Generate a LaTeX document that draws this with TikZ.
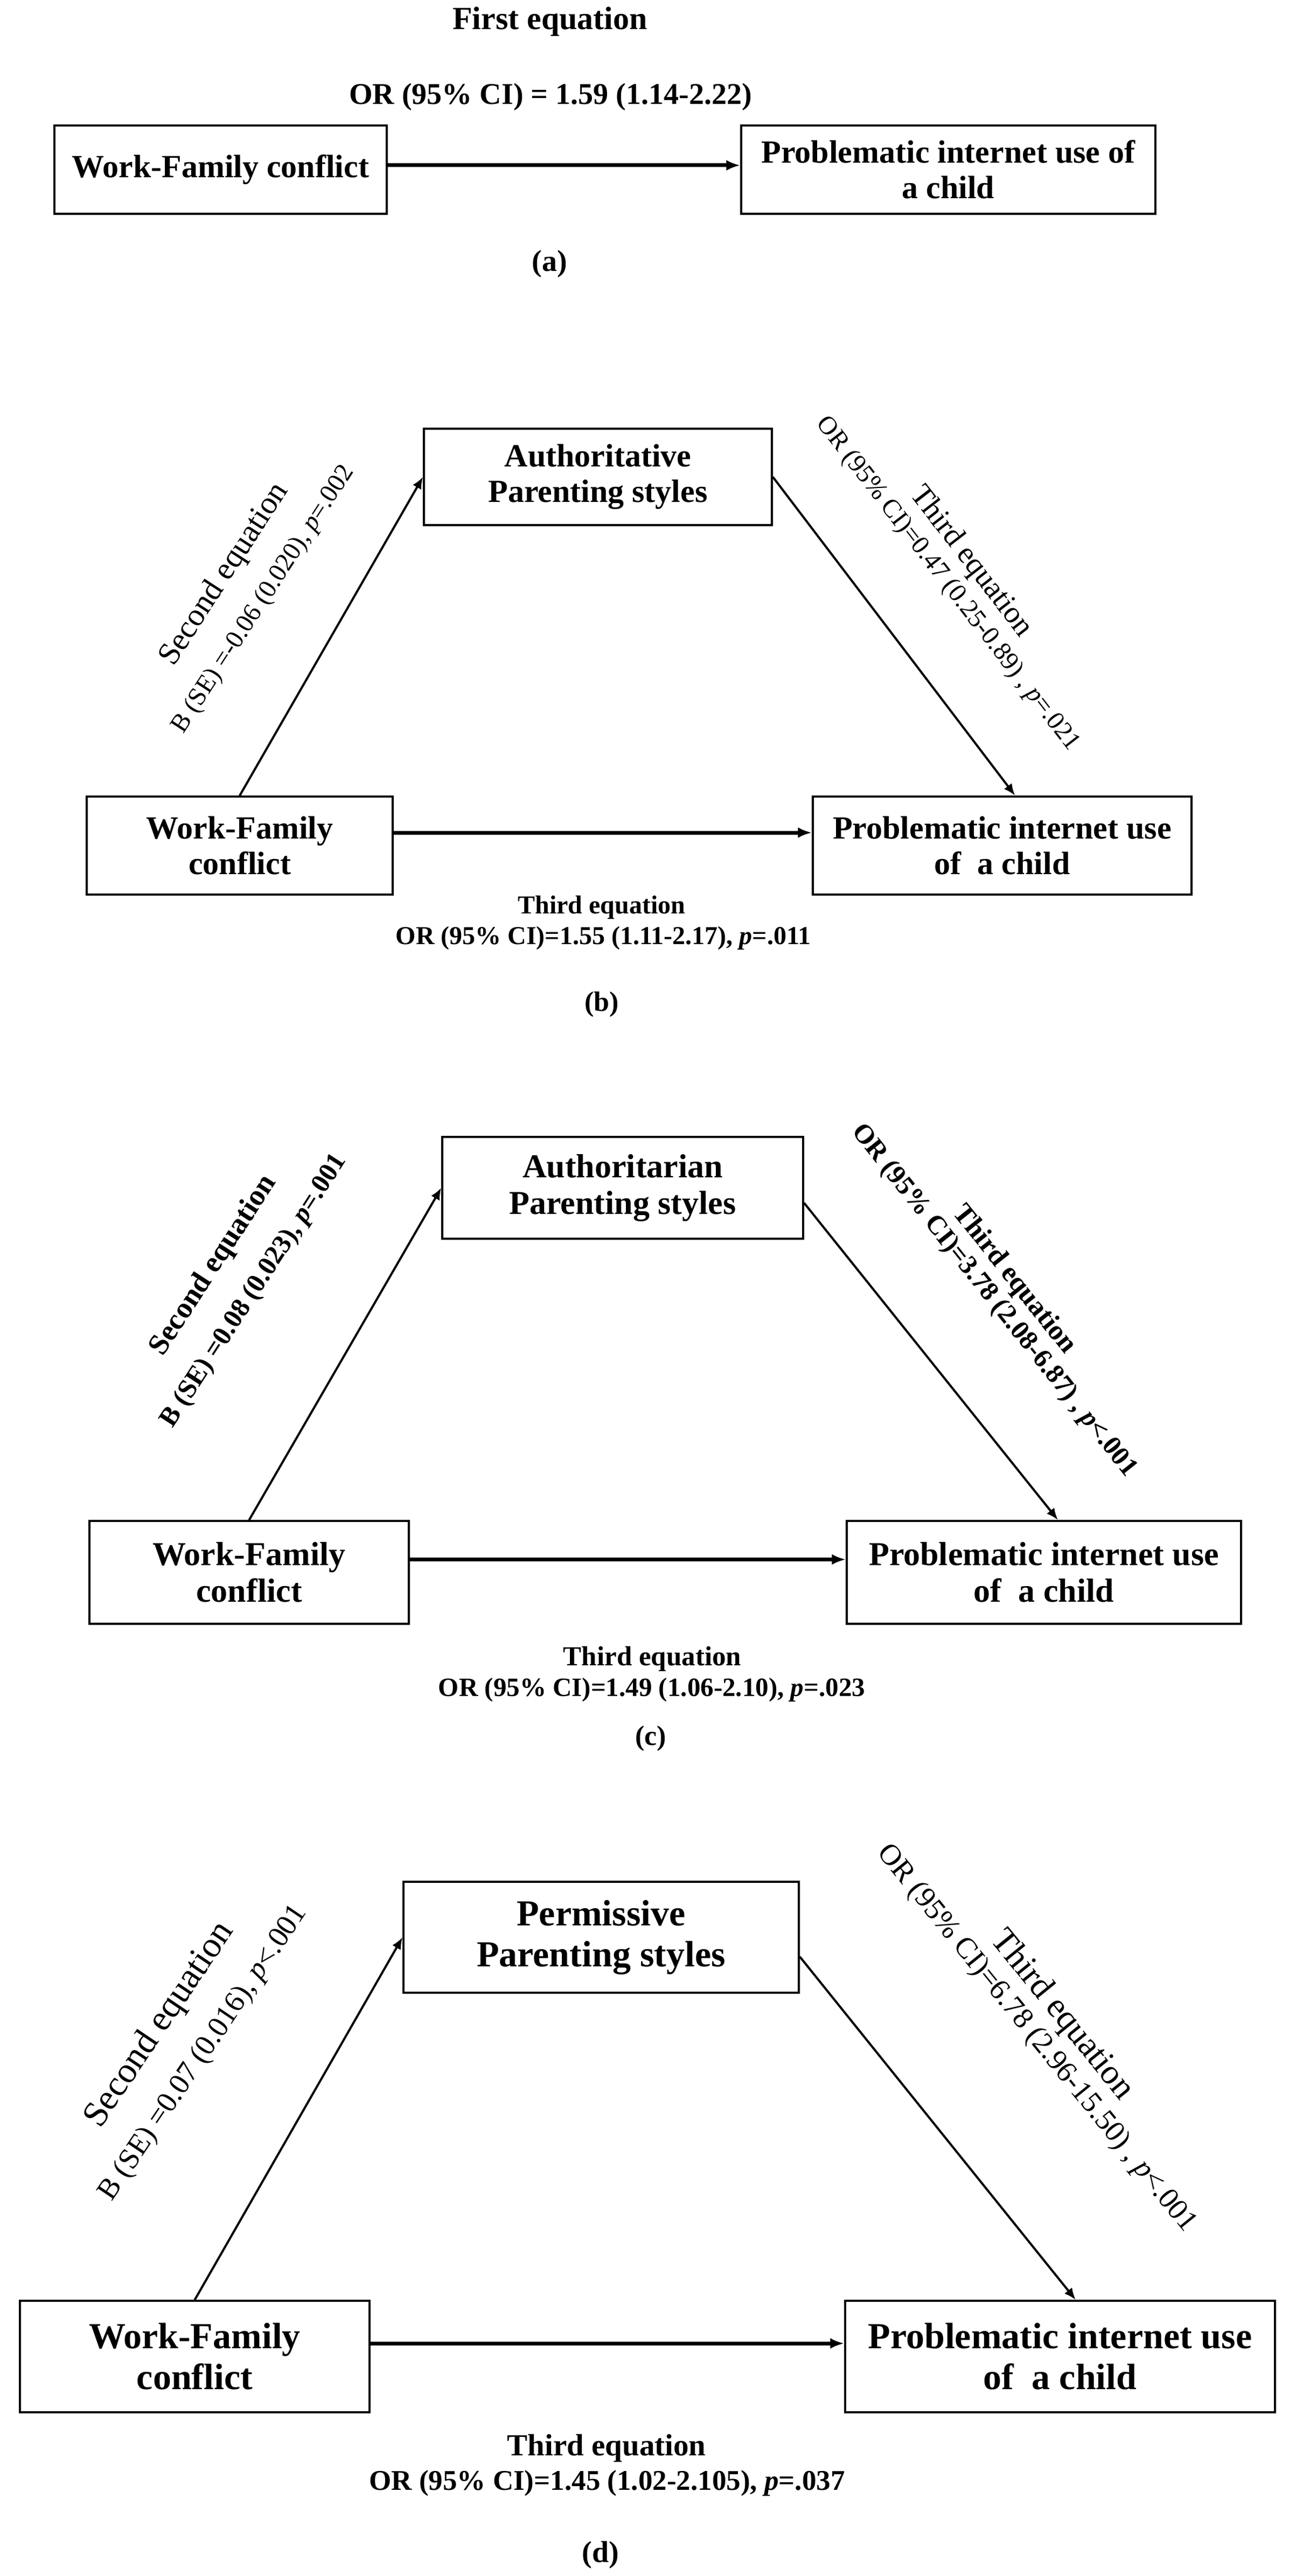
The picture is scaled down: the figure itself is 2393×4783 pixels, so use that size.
\documentclass[tikz,border=0pt]{standalone}
\usepackage{fontspec}
\setmainfont{Liberation Serif}
\usetikzlibrary{arrows.meta}
\newcommand{\fs}[2]{\fontsize{#1}{#2}\selectfont}
\begin{document}
\begin{tikzpicture}[x=0.25pt,y=-0.25pt,
  box/.style={draw, line width=0.875pt, inner sep=0pt, align=center},
  arr/.style={-{Latex[length=5.5pt,width=4.5pt]}, line width=1pt},
  harr/.style={-{Latex[length=6.5pt,width=5pt]}, line width=1.75pt},
  lab/.style={inner sep=0pt, align=center}]
\fill[white] (0,0) rectangle (2393,4783);
\useasboundingbox (0,0) rectangle (2393,4783);

% ---------------- (a)
\node[lab, font=\bfseries\fs{15}{18}] (t1a) at (1021,40) {First equation};
\node[lab, font=\bfseries\fs{14}{17}] (t2a) at (1022,180) {OR (95\% CI) = 1.59 (1.14-2.22)};
\node[box, minimum width=154.25pt, minimum height=41pt, font=\bfseries\fs{15}{16.5}] (La) at (409.5,315) {Work-Family conflict};
\node[box, minimum width=192.25pt, minimum height=41pt, font=\bfseries\fs{15}{16.5}] (Ra) at (1760.5,315) {Problematic internet use of\\a child};
\draw[harr] ([yshift=2pt]La.east) -- ([yshift=2pt]Ra.west);
\node[lab, font=\bfseries\fs{14}{17}] (capa) at (1020,490) {(a)};

% ---------------- (b)
\node[box, minimum width=161.5pt, minimum height=44.75pt, font=\bfseries\fs{15}{16.5}] (Tb) at (1110,885.5) {Authoritative\\Parenting styles};
\node[box, minimum width=142pt, minimum height=45.5pt, font=\bfseries\fs{15}{16.5}] (Lb) at (445,1570) {Work-Family\\conflict};
\node[box, minimum width=175.75pt, minimum height=45.5pt, font=\bfseries\fs{15}{16.5}] (Rb) at (1860.5,1570) {Problematic internet use\\of\ \ a child};
\draw[arr] (Lb.north) -- (Tb.west);
\draw[arr] (Tb.east) -- ([xshift=6pt]Rb.north);
\draw[harr] ([yshift=6pt]Lb.east) -- ([yshift=6pt]Rb.west);
\node[lab, rotate=57, font=\fs{14.75}{17}] (sb1) at (417,1067) {Second equation};
\node[lab, rotate=57, font=\fs{12}{14}] (sb2) at (489,1113) {B (SE) =-0.06 (0.020), \textit{p}=.002};
\node[lab, rotate=-52.3, font=\fs{14.25}{17}] (tb1) at (1802,1043) {Third equation};
\node[lab, rotate=-52.3, font=\fs{12}{14}] (tb2) at (1759,1084) {OR (95\% CI)=0.47 (0.25-0.89) , \textit{p}=.021};
\node[lab, font=\bfseries\fs{12}{14}] (cb1) at (1117,1685) {Third equation};
\node[lab, font=\bfseries\fs{12}{14}] (cb2) at (1120,1742) {OR (95\% CI)=1.55 (1.11-2.17), \textit{p}=.011};
\node[lab, font=\bfseries\fs{13}{15}] (capb) at (1117,1865) {(b)};

% ---------------- (c)
\node[box, minimum width=167.5pt, minimum height=47.25pt, font=\bfseries\fs{15.5}{17}] (Tc) at (1156,2205.5) {Authoritarian\\Parenting styles};
\node[box, minimum width=148.25pt, minimum height=47.75pt, font=\bfseries\fs{15.5}{17}] (Lc) at (462.5,2919.5) {Work-Family\\conflict};
\node[box, minimum width=183pt, minimum height=47.75pt, font=\bfseries\fs{15.5}{17}] (Rc) at (1938,2919.5) {Problematic internet use\\of\ \ a child};
\draw[arr] (Lc.north) -- (Tc.west);
\draw[arr] ([yshift=-7pt]Tc.east) -- ([xshift=6.5pt]Rc.north);
\draw[harr] ([yshift=6pt]Lc.east) -- ([yshift=6pt]Rc.west);
\node[lab, rotate=57, font=\bfseries\fs{13.75}{16}] (sc1) at (397,2350) {Second equation};
\node[lab, rotate=57, font=\bfseries\fs{12.5}{15}] (sc2) at (472,2397) {B (SE) =0.08 (0.023), \textit{p}=.001};
\node[lab, rotate=-51.5, font=\bfseries\fs{13}{15}] (tc1) at (1882,2376) {Third equation};
\node[lab, rotate=-51.5, font=\bfseries\fs{12.5}{15}] (tc2) at (1845,2415) {OR (95\% CI)=3.78 (2.08-6.87) , \textit{p}<.001};
\node[lab, font=\bfseries\fs{12.75}{15}] (cc1) at (1211,3080) {Third equation};
\node[lab, font=\bfseries\fs{12.25}{15}] (cc2) at (1210,3138) {OR (95\% CI)=1.49 (1.06-2.10), \textit{p}=.023};
\node[lab, font=\bfseries\fs{13}{15}] (capc) at (1208,3228) {(c)};

% ---------------- (d)
\node[box, minimum width=183.5pt, minimum height=51.5pt, font=\bfseries\fs{17}{19}] (Td) at (1116,3597) {Permissive\\Parenting styles};
\node[box, minimum width=162.25pt, minimum height=51.75pt, font=\bfseries\fs{17}{19}] (Ld) at (361.5,4375.5) {Work-Family\\conflict};
\node[box, minimum width=199.5pt, minimum height=51.75pt, font=\bfseries\fs{17}{19}] (Rd) at (1968,4375.5) {Problematic internet use\\of\ \ a child};
\draw[arr] (Ld.north) -- (Td.west);
\draw[arr] ([yshift=-9pt]Td.east) -- ([xshift=7.25pt]Rd.north);
\draw[harr] ([yshift=6.1pt]Ld.east) -- ([yshift=6.1pt]Rd.west);
\node[lab, rotate=56, font=\fs{16.75}{19}] (sd1) at (297,3760) {Second equation};
\node[lab, rotate=56, font=\fs{13.75}{16}] (sd2) at (378,3812) {B (SE) =0.07 (0.016), \textit{p}<.001};
\node[lab, rotate=-51, font=\fs{16.25}{19}] (td1) at (1971,3742) {Third equation};
\node[lab, rotate=-51, font=\fs{13.75}{16}] (td2) at (1924,3785) {OR (95\% CI)=6.78 (2.96-15.50) , \textit{p}<.001};
\node[lab, font=\bfseries\fs{14.25}{17}] (cd1) at (1126,4546) {Third equation};
\node[lab, font=\bfseries\fs{13.25}{16}] (cd2) at (1127,4611) {OR (95\% CI)=1.45 (1.02-2.105), \textit{p}=.037};
\node[lab, font=\bfseries\fs{14}{17}] (capd) at (1115,4744) {(d)};
\end{tikzpicture}
\end{document}
